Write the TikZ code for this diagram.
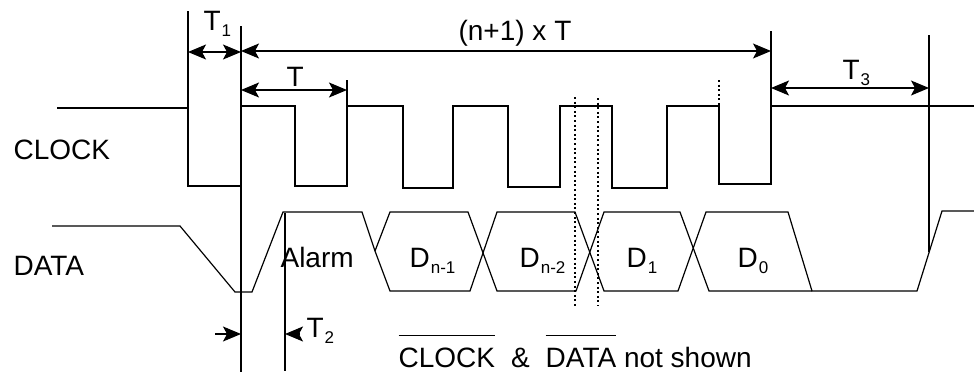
\documentclass[tikz,border=0pt]{standalone}
\usepackage{fontspec}
\setmainfont{Liberation Sans}
\usetikzlibrary{arrows.meta}
\newcommand{\tsub}[1]{\raisebox{-3pt}{\fontsize{8.5}{9}\selectfont\kern0.5pt #1}}
\newcommand{\ovbar}[1]{$\overline{\hbox{#1}\rule{0pt}{14.3pt}}$}

\begin{document}
\begin{tikzpicture}[x=0.5pt,y=-0.5pt,line width=0.6pt,line join=miter,
  >={Stealth[length=9pt,width=7.5pt,inset=2pt]},
  every node/.style={inner sep=0pt,font=\fontsize{14}{16}\selectfont},
  lbl/.style={anchor=base west},
  cut/.style={dash pattern=on 1pt off 1.3pt}]
\useasboundingbox (0,0) rectangle (974,375);

% signal names
\node[lbl](clk) at (13,159){CLOCK};
\node[lbl](dat) at (13,275){DATA};

% clock
\draw (57,108) -- (188,108) -- (188,186) -- (241,186) -- (241,106) -- (295,106)
  -- (295,186) -- (347,186) -- (347,106) -- (403,106) -- (403,188) -- (453,188)
  -- (453,106) -- (508,106) -- (508,187) -- (560,187) -- (560,106) -- (612,106)
  -- (612,188) -- (667,188) -- (667,106) -- (719,106) -- (719,184) -- (771,184)
  -- (771,106) -- (974,106);

% data
\draw (52,226) -- (180,226) -- (235,292) -- (252,292) -- (283,212) -- (362,212) -- (375,251);
\draw (375,251) -- (390,212) -- (468,212) -- (497,291) -- (576,291) -- (604,212)
  -- (680,212) -- (709,291) -- (812,291);
\draw (375,251) -- (390,291) -- (470,291) -- (497,212) -- (575,212) -- (604,291)
  -- (678,291) -- (706,212) -- (788,212) -- (812,291) -- (917,291) -- (942,211) -- (974,211);

% reference lines
\coordinate (a1) at (188,11);  \coordinate (a2) at (188,108);
\coordinate (b1) at (241,26);  \coordinate (b2) at (241,372);
\coordinate (c1) at (347,80);  \coordinate (c2) at (347,106);
\coordinate (e1) at (771,31);  \coordinate (e2) at (771,106);
\coordinate (f1) at (929,35);  \coordinate (f2) at (929,252);
\coordinate (g1) at (285,213); \coordinate (g2) at (285,371);
\draw (a1) -- (a2);
\draw (b1) -- (b2);
\draw (c1) -- (c2);
\draw (e1) -- (e2);
\draw (f1) -- (f2);
\draw (g1) -- (g2);

% omitted bits
\coordinate (k1) at (575,97);  \coordinate (k2) at (575,306);
\coordinate (m1) at (598,98);  \coordinate (m2) at (598,306);
\coordinate (p1) at (719,80);  \coordinate (p2) at (719,106);
\draw[cut] (k1) -- (k2);
\draw[cut] (m1) -- (m2);
\draw[cut] (p1) -- (p2);

% timings
\coordinate (t1l) at (188,52); \coordinate (t1r) at (241,52);
\coordinate (ntl) at (241,51); \coordinate (ntr) at (771,51);
\coordinate (tpl) at (241,90); \coordinate (tpr) at (347,90);
\coordinate (t3l) at (771,88); \coordinate (t3r) at (929,88);
\coordinate (t2a) at (215,334); \coordinate (t2b) at (241,334);
\coordinate (t2c) at (300,334); \coordinate (t2d) at (285,334);
\draw[<->] (t1l) -- (t1r);
\draw[<->] (ntl) -- (ntr);
\draw[<->] (tpl) -- (tpr);
\draw[<->] (t3l) -- (t3r);
\draw[->] (t2a) -- (t2b);
\draw[->] (t2c) -- (t2d);

\node[lbl](t1) at (203,30){T\tsub{1}};
\node[lbl](tp) at (286,86){T};
\node[lbl](nt) at (458,40){(n+1) x T};
\node[lbl](t3) at (842,79){T\tsub{3}};
\node[lbl](t2) at (306,337){T\tsub{2}};

% data bits
\node[lbl](alarm) at (280,267){Alarm};
\node[lbl](dn1) at (409,267){D\tsub{n-1}};
\node[lbl](dn2) at (519,267){D\tsub{n-2}};
\node[lbl](d1) at (626,267){D\tsub{1}};
\node[lbl](d0) at (737,267){D\tsub{0}};

\node[lbl](note) at (398,367){\ovbar{CLOCK}\hspace{8pt}\&\hspace{8pt}\ovbar{DATA} not shown};

\end{tikzpicture}
\end{document}
